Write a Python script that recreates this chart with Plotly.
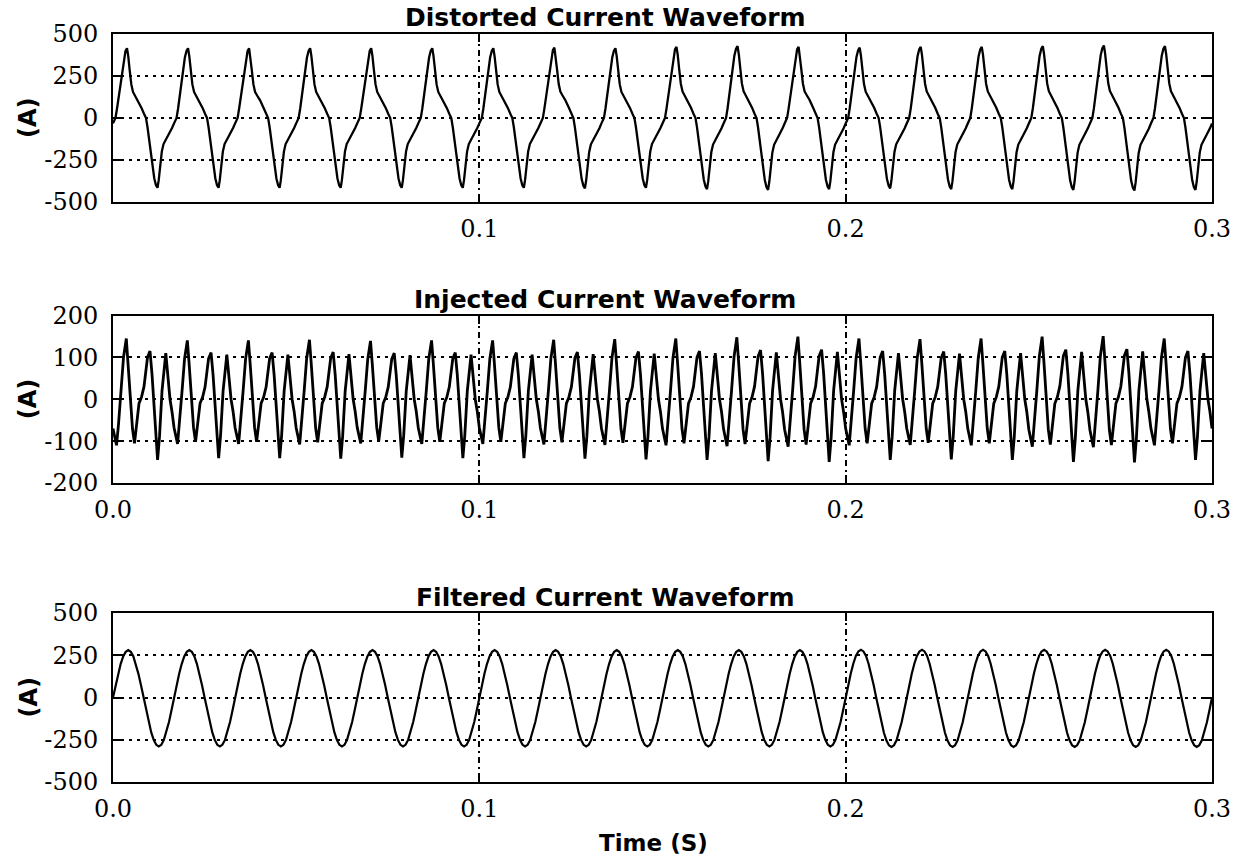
import plotly.graph_objects as go

# ---------------- data ----------------
CYCLE_MS = 1000.0 / 60.0          # 60 Hz fundamental
time_tick_vals = [0.0, 0.1, 0.2, 0.3]
time_tick_text = ["0.0", "0.1", "0.2", "0.3"]

# Distorted current: one cycle (ms offset within cycle, amps)
dist_offset_ms = [0.00, 0.68, 1.09, 1.50, 1.99, 2.46, 2.95, 3.41, 3.82, 4.15, 4.53, 5.00,
                  5.46, 6.01, 6.82, 7.78, 8.46, 9.01, 9.42, 9.83, 10.32, 10.78, 11.27,
                  11.74, 12.15, 12.48, 12.86, 13.32, 13.79, 14.33, 15.15, 16.11]
dist_values = [-32, 0, 55, 120, 200, 270, 360, 400, 415, 370, 290, 200,
               155, 134, 105, 60, 25, 0, -55, -120, -200, -270, -360,
               -400, -415, -370, -290, -200, -155, -134, -105, -60]
dist_cycle_scale = [1.00, 1.00, 1.00, 1.00, 1.00, 1.00, 1.00, 1.01, 1.00,
                    1.02, 1.03, 1.02, 1.01, 1.02, 1.02, 1.03, 1.04, 1.03]

# Injected current: one cycle
inj_offset_ms = [0.00, 0.96, 1.50, 2.18, 2.87, 3.63, 4.09, 4.78, 5.32, 5.87, 6.42, 7.10,
                 7.78, 8.46, 9.42, 10.10, 10.65, 11.33, 12.17, 12.69, 13.38, 14.41,
                 14.96, 15.56, 16.11]
inj_values = [-70, -110, -60, 20, 100, 145, 90, 0, -70, -105, -60, -10,
              5, 30, 100, 115, 60, -40, -145, -90, 20, 110, 60, 0, -30]
inj_cycle_scale = [1.00, 0.97, 0.97, 0.98, 0.96, 0.97, 0.97, 0.98, 0.99,
                   1.00, 1.02, 1.03, 1.00, 0.99, 1.00, 1.03, 1.04, 1.00]

# Filtered current: one cycle
filt_offset_ms = [0.00, 0.69, 1.39, 2.08, 2.78, 3.47, 4.17, 4.86, 5.56, 6.25, 6.94, 7.64,
                  8.33, 9.03, 9.72, 10.42, 11.11, 11.81, 12.50, 13.19, 13.89, 14.58,
                  15.28, 15.97]
filt_values = [0, 73, 140, 198, 243, 270, 280, 270, 243, 198, 140, 73,
               0, -75, -145, -205, -251, -280, -290, -280, -251, -205, -145, -75]
filt_cycle_scale = [1.00] * 12 + [1.01] * 6

titles = ["Distorted Current Waveform", "Injected Current Waveform", "Filtered Current Waveform"]


def build(offsets, values, scales):
    t, y = [], []
    for k, s in enumerate(scales):
        for o, v in zip(offsets, values):
            t.append((k * CYCLE_MS + o) / 1000.0)
            y.append(v * s)
    t.append(len(scales) * CYCLE_MS / 1000.0)
    y.append(values[0] * scales[-1])
    return t, y


series = [
    (build(dist_offset_ms, dist_values, dist_cycle_scale), 2.3),
    (build(inj_offset_ms, inj_values, inj_cycle_scale), 2.8),
    (build(filt_offset_ms, filt_values, filt_cycle_scale), 2.2),
]

# ---------------- layout geometry ----------------
W, H = 1245, 857
ML, MR, MT, MB = 113, 33, 34, 75
PH = H - MT - MB
def py(pix):
    return (H - MB - pix) / PH
def px(pix):
    return (pix - ML) / (W - ML - MR)

domains = [[py(202), 1.0], [py(483), py(315.5)], [0.0, py(613)]]
yranges = [[-500, 500], [-200, 200], [-500, 500]]
yticks = [[-500, -250, 0, 250, 500], [-200, -100, 0, 100, 200], [-500, -250, 0, 250, 500]]

fig = go.Figure()
for i, ((t, y), lw) in enumerate(series):
    n = "" if i == 0 else str(i + 1)
    fig.add_trace(go.Scatter(x=t, y=y, mode="lines", line=dict(color="black", width=lw),
                             xaxis="x" + n, yaxis="y" + n, showlegend=False,
                             hoverinfo="skip"))

tickfont = dict(family="DejaVu Serif", size=24, color="black")
layout = dict(
    width=W, height=H, margin=dict(l=ML, r=MR, t=MT, b=MB),
    paper_bgcolor="white", plot_bgcolor="white", showlegend=False,
)
for i in range(3):
    n = "" if i == 0 else str(i + 1)
    ttext = time_tick_text if i > 0 else [""] + time_tick_text[1:]
    layout["xaxis" + n] = dict(
        domain=[0, 1], anchor="y" + n, range=[0, 0.3],
        tickvals=time_tick_vals, ticktext=ttext, ticks="inside", ticklen=8,
        tickwidth=1.5, tickcolor="black", tickfont=tickfont,
        showline=True, linecolor="black", linewidth=2, mirror="ticks",
        showgrid=True, gridcolor="black", gridwidth=1.5, griddash="6px,4px,2px,4px",
        zeroline=False, ticklabelstandoff=4,
    )
    layout["yaxis" + n] = dict(
        domain=domains[i], anchor="x" + n, range=yranges[i],
        tickvals=yticks[i], ticktext=[str(v) for v in yticks[i]],
        ticks="inside", ticklen=8, tickwidth=1.5, tickcolor="black", tickfont=tickfont,
        showline=True, linecolor="black", linewidth=2, mirror="ticks",
        showgrid=True, gridcolor="black", gridwidth=1.5, griddash="3px,5px",
        zeroline=False, ticklabelstandoff=8,
    )
fig.update_layout(**layout)

ann = []
title_py = [18, 299, 597]
for i in range(3):
    ann.append(dict(text="<b>%s</b>" % titles[i], x=px(605), y=py(title_py[i]),
                    xref="paper", yref="paper", showarrow=False, xanchor="center",
                    yanchor="middle",
                    font=dict(family="DejaVu Sans", size=25, color="black")))
    mid = (domains[i][0] + domains[i][1]) / 2
    ann.append(dict(text="<b>(A)</b>", x=px(28), y=mid, xref="paper", yref="paper",
                    showarrow=False, textangle=-90, xanchor="center", yanchor="middle",
                    font=dict(family="DejaVu Sans", size=24, color="black")))
ann.append(dict(text="<b>Time (S)</b>", x=px(653), y=py(843), xref="paper", yref="paper",
                showarrow=False, xanchor="center", yanchor="middle",
                font=dict(family="DejaVu Sans", size=23, color="black")))
fig.update_layout(annotations=ann)

fig.write_html("out.html")
